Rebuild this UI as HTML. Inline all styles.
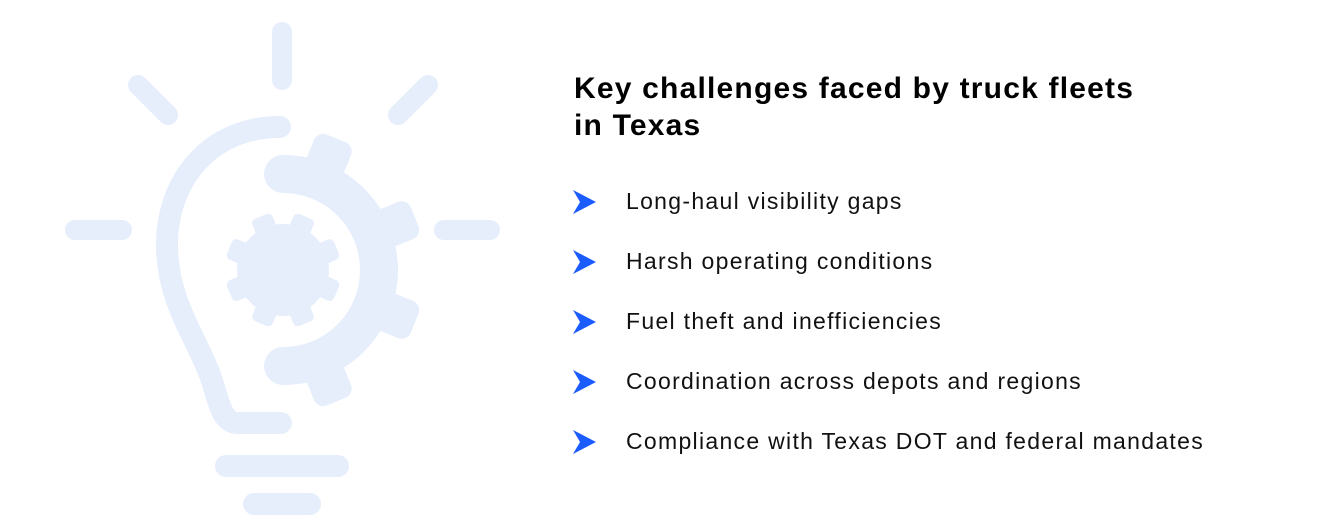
<!DOCTYPE html>
<html><head><meta charset="utf-8"><style>
html,body{margin:0;padding:0;background:#fff;}
body{width:1320px;height:526px;position:relative;overflow:hidden;font-family:"Liberation Sans",sans-serif;color:#111;}
h1{position:absolute;left:574px;top:70px;margin:0;font-size:30px;line-height:37px;font-weight:700;letter-spacing:1.2px;color:#000;}
.it{position:absolute;left:573px;height:30px;}
.it svg{position:absolute;left:0;top:3px;}
.it span{position:absolute;left:53px;top:0;font-size:23px;line-height:30px;white-space:nowrap;letter-spacing:1.3px;}
</style></head><body>
<svg width="1320" height="526" style="position:absolute;left:0;top:0">
<g stroke="#e6eefc" stroke-linecap="round" fill="none">
<line x1="282" y1="32" x2="282" y2="80" stroke-width="20"/>
<line x1="138" y1="85" x2="168" y2="115" stroke-width="20"/>
<line x1="428" y1="85" x2="398" y2="115" stroke-width="20"/>
<line x1="75" y1="230" x2="122" y2="230" stroke-width="20"/>
<line x1="444" y1="230" x2="490" y2="230" stroke-width="20"/>
<line x1="226" y1="466" x2="338" y2="466" stroke-width="22"/>
<line x1="254" y1="504" x2="310" y2="504" stroke-width="22"/>
<path d="M280,127 C210,127 167,180 167,245 C167,300 195,335 210,375 C220,405 222,423 238,423 L281,423" stroke-width="22"/>
<path d="M283,174 A96,96 0 0 1 283,366" stroke-width="38"/>
</g>
<g fill="#e6eefc">
<g transform="translate(283,270)">
<rect x="100" y="-20" width="42" height="40" rx="10" transform="rotate(-22)"/>
<rect x="100" y="-20" width="42" height="40" rx="10" transform="rotate(22)"/>
<rect x="100" y="-20" width="42" height="40" rx="10" transform="rotate(-68)"/>
<rect x="100" y="-20" width="42" height="40" rx="10" transform="rotate(68)"/>
<circle r="46"/>
<g>
<rect x="38" y="-11" width="20" height="22" rx="5" transform="rotate(22.5)"/>
<rect x="38" y="-11" width="20" height="22" rx="5" transform="rotate(67.5)"/>
<rect x="38" y="-11" width="20" height="22" rx="5" transform="rotate(112.5)"/>
<rect x="38" y="-11" width="20" height="22" rx="5" transform="rotate(157.5)"/>
<rect x="38" y="-11" width="20" height="22" rx="5" transform="rotate(202.5)"/>
<rect x="38" y="-11" width="20" height="22" rx="5" transform="rotate(247.5)"/>
<rect x="38" y="-11" width="20" height="22" rx="5" transform="rotate(292.5)"/>
<rect x="38" y="-11" width="20" height="22" rx="5" transform="rotate(337.5)"/>
</g>
</g>
</g>
</svg>
<h1>Key challenges faced by truck fleets<br>in Texas</h1>
<div class="it" style="top:186px"><svg width="24" height="26"><polygon points="0,1 23,13 0,25 7,13" fill="#1a5cff"/></svg><span>Long-haul visibility gaps</span></div>
<div class="it" style="top:246px"><svg width="24" height="26"><polygon points="0,1 23,13 0,25 7,13" fill="#1a5cff"/></svg><span>Harsh operating conditions</span></div>
<div class="it" style="top:306px"><svg width="24" height="26"><polygon points="0,1 23,13 0,25 7,13" fill="#1a5cff"/></svg><span>Fuel theft and inefficiencies</span></div>
<div class="it" style="top:366px"><svg width="24" height="26"><polygon points="0,1 23,13 0,25 7,13" fill="#1a5cff"/></svg><span>Coordination across depots and regions</span></div>
<div class="it" style="top:426px"><svg width="24" height="26"><polygon points="0,1 23,13 0,25 7,13" fill="#1a5cff"/></svg><span>Compliance with Texas DOT and federal mandates</span></div>
</body></html>
